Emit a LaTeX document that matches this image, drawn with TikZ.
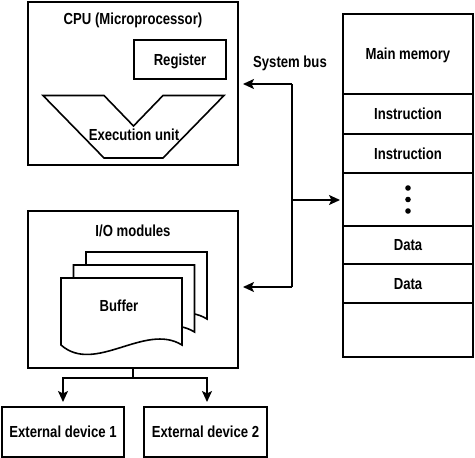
\documentclass[tikz,border=0pt]{standalone}
\usepackage{fontspec}
\setmainfont{Liberation Sans}[FakeStretch=0.82]
\usetikzlibrary{arrows.meta,positioning}
\begin{document}
\begin{tikzpicture}[x=1pt,y=-1pt,
  lw/.style={line width=1.6pt},
  box/.style={draw,lw,inner sep=0pt,outer sep=0pt},
  lbl/.style={font=\fontsize{16}{18}\selectfont\bfseries,inner sep=0pt,text height=11.3pt,text depth=0pt},
  cell/.style={box,lbl,minimum width=130pt},
  arr/.style={lw,-{Stealth[length=11pt,width=10pt,inset=2.5pt]}},
  doc/.pic={\draw[lw,fill=white] (0,0) -- (121,0) -- (121,67) .. controls (84,44) and (34,97) .. (0,67) -- cycle;}]
\useasboundingbox (0,0) rectangle (475,458);
% CPU
\node[box,minimum width=210pt,minimum height=163pt] (cpu) at (133,83.5) {};
\node[lbl] (cputitle) at (133,18.8) {CPU (Microprocessor)};
\node[box,lbl,minimum width=92pt,minimum height=39pt] (reg) at (180,59.5) {Register};
\draw[lw,line join=miter] (43,95.5) -- (104,95.5) -- (133.5,126) -- (163,95.5) -- (224,95.5) -- (163,158) -- (104,158) -- cycle;
\node[lbl] (exec) at (134,135) {Execution unit};
% I/O
\node[box,minimum width=210pt,minimum height=157pt] (io) at (133,289.5) {};
\node[lbl] (iotitle) at (133,230.5) {I/O modules};
\pic at (86,252) {doc};
\pic at (73.5,265) {doc};
\pic at (61,278) {doc};
\node[lbl] (buf) at (119,306) {Buffer};
% Memory
\node[cell,minimum height=80pt,anchor=north] (m0) at (408,14) {Main memory};
\node[cell,minimum height=40pt,below=0pt of m0] (m1) {Instruction};
\node[cell,minimum height=39pt,below=0pt of m1] (m2) {Instruction};
\node[cell,minimum height=53pt,below=0pt of m2] (m3) {};
\node[cell,minimum height=38pt,below=0pt of m3] (m4) {Data};
\node[cell,minimum height=39pt,below=0pt of m4] (m5) {Data};
\node[cell,minimum height=54pt,below=0pt of m5] (m6) {};
\fill (m3.center) ++(0,-11.5) circle (2.8pt);
\fill (m3.center) circle (2.8pt);
\fill (m3.center) ++(0,11.5) circle (2.8pt);
% Bus
\node[lbl] (bus) at (290,61.5) {System bus};
\coordinate (bt) at (292,84);
\coordinate (bb) at (292,287);
\coordinate (bm) at (292,200);
\draw[lw] (bt) -- (bb);
\draw[arr,shorten >=5pt] (bt) -- (cpu.east |- bt);
\draw[arr,shorten >=5pt] (bb) -- (io.east |- bb);
\draw[arr,shorten >=3pt] (bm) -- (m3.west |- bm);
% External devices
\node[box,lbl,minimum width=122pt,minimum height=50pt] (e1) at (63,432) {External device 1};
\node[box,lbl,minimum width=123pt,minimum height=50pt] (e2) at (205.5,432) {External device 2};
\coordinate (split) at (133,378);
\draw[lw] (io.south) -- (split);
\draw[arr,shorten >=5pt] (split) -| (e1.north);
\draw[arr,shorten >=5pt] (split) -| ([xshift=1.5pt]e2.north);
\end{tikzpicture}
\end{document}
